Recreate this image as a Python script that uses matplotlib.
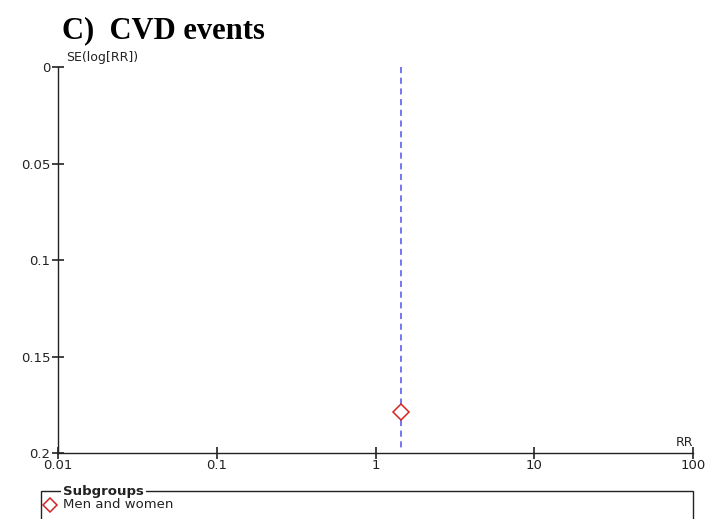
import matplotlib
matplotlib.use("Agg")
import matplotlib.pyplot as plt
from matplotlib.patches import Rectangle
from matplotlib.lines import Line2D

# Funnel plot data
subgroups = ["Men and women"]
rr_values = [1.44]
se_values = [0.179]
pooled_rr = 1.44

x_ticks = [0.01, 0.1, 1, 10, 100]
x_tick_labels = ["0.01", "0.1", "1", "10", "100"]
y_ticks = [0, 0.05, 0.1, 0.15, 0.2]
y_tick_labels = ["0", "0.05", "0.1", "0.15", "0.2"]

axis_col = "#222222"
marker_col = "#d42525"
line_col = "#5050f0"

fig = plt.figure(figsize=(7.09, 5.19), dpi=100)
ax = fig.add_axes([58 / 709, 66 / 519, 635 / 709, 386 / 519])

ax.set_xscale("log")
ax.set_xlim(x_ticks[0], x_ticks[-1])
ax.set_ylim(y_ticks[-1], y_ticks[0])

# Pooled estimate reference line
ax.plot([pooled_rr, pooled_rr], [0, 0.1985], color=line_col, lw=1.1,
        linestyle=(0, (4, 3)), zorder=2)

# Study points
ax.plot(rr_values, se_values, linestyle="none", marker="D", markersize=7.8,
        markerfacecolor="white", markeredgecolor=marker_col, markeredgewidth=1.1,
        zorder=3, clip_on=False)

for s in ["top", "right"]:
    ax.spines[s].set_visible(False)
for s in ["left", "bottom"]:
    ax.spines[s].set_color(axis_col)
    ax.spines[s].set_linewidth(1.0)

ax.set_xticks(x_ticks)
ax.set_xticklabels(x_tick_labels)
ax.minorticks_off()
ax.set_yticks(y_ticks)
ax.set_yticklabels(y_tick_labels)
ax.tick_params(axis="both", direction="inout", length=9, width=1.2,
               colors=axis_col, labelsize=9.5, pad=1)
ax.tick_params(axis="x", pad=0)

ax.annotate("SE(log[RR])", xy=(0, 1), xycoords="axes fraction",
            xytext=(6, 2), textcoords="offset points", ha="left", va="bottom",
            fontsize=9, color=axis_col)
ax.annotate("RR", xy=(1, 0), xycoords="axes fraction",
            xytext=(0, 3), textcoords="offset points", ha="right", va="bottom",
            fontsize=9, color=axis_col)

fig.text(62 / 709, 1 - 31 / 519, "C)  CVD events", family="Liberation Serif",
         fontweight="bold", fontsize=22, ha="left", va="center", color="black")

# Subgroup legend box
box_left, box_top, box_right = 41 / 709, 1 - 491 / 519, 693 / 709
fig.patches.append(Rectangle((box_left, -0.05), box_right - box_left,
                             box_top + 0.05, transform=fig.transFigure,
                             fill=False, edgecolor=axis_col, lw=1.0))
fig.text(63 / 709, box_top, "Subgroups", fontsize=9.5, fontweight="bold",
         ha="left", va="center", color=axis_col,
         bbox=dict(facecolor="white", edgecolor="none", pad=1.5))
for i, name in enumerate(subgroups):
    y = 1 - (505 + 16 * i) / 519
    fig.lines.append(Line2D([50 / 709], [y], transform=fig.transFigure,
                            marker="D", markersize=7.5, markerfacecolor="white",
                            markeredgecolor=marker_col, markeredgewidth=1.1))
    fig.text(63 / 709, y, name, fontsize=9.5, ha="left", va="center",
             color=axis_col)

fig.savefig("out.png", dpi=100)
